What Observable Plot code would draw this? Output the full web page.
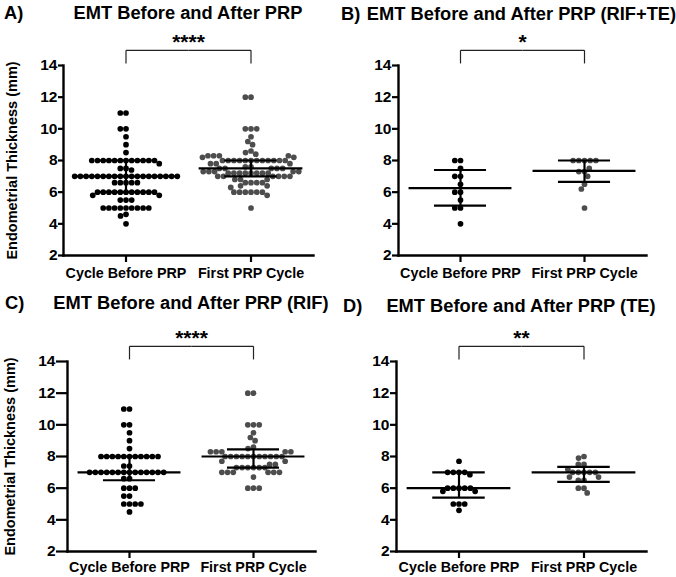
<!DOCTYPE html>
<html><head><meta charset="utf-8">
<script src="https://cdn.jsdelivr.net/npm/d3@7"></script>
<script src="https://cdn.jsdelivr.net/npm/@observablehq/plot@0.6"></script>
<style>
body{margin:0;background:#fff;font-family:"Liberation Sans",Arial,sans-serif;}
#root{position:relative;width:676px;height:577px;overflow:hidden;background:#fff}
.t{position:absolute;font-weight:bold;font-size:18.3px;line-height:20px;white-space:nowrap;color:#000}
.main{transform:translateX(-50%)}
svg{position:absolute;overflow:visible}
</style></head><body><div id="root"></div>
<script>
// ---- categories, titles, ticks ----
const groups = ["Cycle Before PRP", "First PRP Cycle"];
const panelLetters = ["A)", "B)", "C)", "D)"];
const panelTitles = ["EMT Before and After PRP", "EMT Before and After PRP (RIF+TE)", "EMT Before and After PRP (RIF)", "EMT Before and After PRP (TE)"];
const panelStars = ["****", "*", "****", "**"];
const yTicks = [2, 4, 6, 8, 10, 12, 14];
const yLabel = "Endometrial Thickness (mm)";

// ---- values (mm) ----
const allBefore = [11,11,10,10,9.5,9,8.5,
  8,8,8,8,8,8,8,8,8,8,8,8,
  7.8,7.5,7.5,7.4,
  7,7,7,7,7,7,7,7,7,7,7,7,7,7,7,7,7,7,7,
  6.6,6.6,6.6,6.6,6.6,
  6,6,6,6,6,6,6,6,6,6,6,5.8,5.8,
  5.5,5.5,5.5,5,5,5,5,5,5,5,5,5,4.6,4.5,4];
const allAfter = [12,12,10,10,10,9.5,9.2,9,8.6,8.5,8.4,
  8.3,8.3,8.3,8.3,8.2,8.2,
  8,8,8,8,8,8,8,8,8,8,8,8,
  7.8,7.8,7.8,7.6,7.6,7.5,7.5,7.5,7.5,7.5,
  7.3,7.3,7.3,7.3,7.3,7.2,7.2,7.2,7.2,7.2,7.2,7.2,7.2,
  7,7,7,7,7,7,
  6.8,6.8,6.8,6.6,6.6,6.6,6.6,6.4,6.4,6.3,
  6,6,6,6,6,6,5.8,5];
const rifteBefore = [8,8,7.5,7,7,6.5,6,6,5.5,5,5,4];
const rifteAfter = [8,8,8,8,8,7.5,7.3,7.3,7,6.5,6.2,5];
const rifBefore = [11,11,10,10,9.5,9,8.5,
  8,8,8,8,8,8,8,8,8,8,8,
  7.4,7.4,
  7,7,7,7,7,7,7,7,7,7,7,7,7,7,
  6.6,6.6,6,6,6,5.5,5.5,5,5,5,5,4.5];
const rifAfter = [12,12,10,10,10,9.5,9.2,9,8.6,8.5,
  8.3,8.3,8.3,8.3,8.3,
  8,8,8,8,8,8,8,8,8,8,8,
  7.7,7.7,7.5,7.5,
  7.3,7.3,7.3,7.3,7.3,7.3,
  7,7,7,7,7,7,
  6.7,6,6,6];
const teBefore = [7.7,7,7,7,7,6.85,6,6,6,6,6,5.8,5.8,5,5,5,4.6];
const teAfter = [8,7.9,7.5,7.5,7.2,7,7,7,7,7,6.7,6.7,6.5,6.5,6,6,5.7];

// ---- median and interquartile bars [before, after] ----
const allMid = [7, 7.5],       allLo = [6, 7],        allHi = [8, 8];
const rifteMid = [6.25, 7.35], rifteLo = [5.15, 6.65], rifteHi = [7.4, 8];
const rifMid = [7, 8],         rifLo = [6.5, 7.3],     rifHi = [8, 8.45];
const teMid = [6, 7],          teLo = [5.4, 6.4],      teHi = [7, 7.35];

// ---- styling / layout constants ----
const FONT = "'Liberation Sans', Arial, sans-serif";
const MID_HALF = 0.415, CAP_HALF = 0.21;
const BR_TOP = 14.96, BR_FOOT = 14.13;

const panels = [
  {before: allBefore, after: allAfter, mid: allMid, lo: allLo, hi: allHi, left: 0, top: 25, ml: 43, mr: 5, po: 0.16, ts: 5, tp: 5, ylab: true, lOff: 57},
  {before: rifteBefore, after: rifteAfter, mid: rifteMid, lo: rifteLo, hi: rifteHi, left: 336, top: 25, ml: 43, mr: 10, po: 0.149, ts: 6, tp: 5, ylab: false},
  {before: rifBefore, after: rifAfter, mid: rifMid, lo: rifLo, hi: rifHi, left: 0, top: 321, ml: 49, mr: 5, po: 0.136, ts: 11, tp: 3, ylab: true, lOff: 63},
  {before: teBefore, after: teAfter, mid: teMid, lo: teLo, hi: teHi, left: 336, top: 321, ml: 42, mr: 10, po: 0.144, ts: 6, tp: 3, ylab: false}
];
const titleTops = [2.7, 3.5, 293.2, 295.7];
const letterLefts = [4, 341, 5, 343];

const root = document.getElementById("root");
const W = 338, H = 262;

panels.forEach((cfg, k) => {
  const rows = [];
  cfg.before.forEach(v => rows.push({g: groups[0], v}));
  cfg.after.forEach(v => rows.push({g: groups[1], v}));
  // place the fullest rows first so they stay compact around the centre
  const counts = d3.rollup(rows, r => r.length, d => d.g, d => d.v);
  const order = (a, b) => counts.get(b.g).get(b.v) - counts.get(a.g).get(a.v) || b.v - a.v;
  const bars = groups.map((g, i) => ({g, mid: cfg.mid[i], lo: cfg.lo[i], hi: cfg.hi[i]}));
  const bracket = [
    {g: groups[0], x1: 0.5, x2: 1, y1: BR_TOP, y2: BR_TOP},
    {g: groups[0], x1: 0.5, x2: 0.5, y1: BR_FOOT, y2: BR_TOP},
    {g: groups[1], x1: 0, x2: 0.5, y1: BR_TOP, y2: BR_TOP},
    {g: groups[1], x1: 0.5, x2: 0.5, y1: BR_FOOT, y2: BR_TOP}
  ];
  const starRow = [{g: groups[0], s: panelStars[k]}];

  const svg = Plot.plot({
    width: W, height: H,
    marginLeft: cfg.ml, marginRight: cfg.mr, marginTop: 40, marginBottom: 32,
    style: {fontFamily: FONT, fontSize: "14px", fontWeight: "bold", color: "#000", background: "transparent", overflow: "visible"},
    fx: {domain: groups, paddingInner: 0, paddingOuter: cfg.po, axis: null, label: null},
    x: {domain: [0, 1], axis: null},
    y: {domain: [2, 14], axis: null},
    color: {domain: groups, range: ["#000000", "#4d4d4d"]},
    marks: [
      Plot.dot(rows, Plot.dodgeX({anchor: "middle", padding: 0, sort: order, fx: "g", y: "v", r: 2.85, fill: "g"})),
      Plot.ruleY(bars, {fx: "g", y: "mid", x1: 0.5 - MID_HALF, x2: 0.5 + MID_HALF, strokeWidth: 2.2}),
      Plot.ruleY(bars, {fx: "g", y: "lo", x1: 0.5 - CAP_HALF, x2: 0.5 + CAP_HALF, strokeWidth: 2.2}),
      Plot.ruleY(bars, {fx: "g", y: "hi", x1: 0.5 - CAP_HALF, x2: 0.5 + CAP_HALF, strokeWidth: 2.2}),
      Plot.ruleX(bars, {fx: "g", x: 0.5, y1: "lo", y2: "hi", strokeWidth: 2.2}),
      Plot.link(bracket, {fx: "g", x1: "x1", x2: "x2", y1: "y1", y2: "y2", stroke: "#222", strokeWidth: 1.2}),
      Plot.text(starRow, {fx: "g", x: 1, y: BR_TOP, text: "s", dy: -8, fontSize: 21, fontWeight: "bold", ariaLabel: "stars"}),
      Plot.frame({anchor: "left", facet: "super", strokeWidth: 2.4}),
      Plot.frame({anchor: "bottom", facet: "super", strokeWidth: 2.4}),
      Plot.axisY({ticks: yTicks, tickSize: cfg.ts, tickPadding: 1, strokeWidth: 2.2, fontSize: 15.5,
        label: cfg.ylab ? yLabel : null, labelAnchor: "center", labelOffset: cfg.lOff, labelArrow: "none"}),
      Plot.axisFx({anchor: "bottom", tickSize: 7, tickPadding: cfg.tp, strokeWidth: 2.2, fontSize: 14.3, label: null})
    ]
  });
  d3.select(svg).selectAll("g[aria-label=stars] text").style("letter-spacing", "2px");
  d3.select(svg).selectAll("g[aria-label='y-axis label'] text").style("font-size", "14.5px");
  svg.style.left = cfg.left + "px";
  svg.style.top = cfg.top + "px";
  root.appendChild(svg);

  const letter = document.createElement("div");
  letter.className = "t";
  letter.textContent = panelLetters[k];
  letter.style.left = letterLefts[k] + "px";
  letter.style.top = titleTops[k] + "px";
  root.appendChild(letter);

  const main = document.createElement("div");
  main.className = "t main";
  main.textContent = panelTitles[k];
  main.style.left = (cfg.left + (cfg.ml + W - cfg.mr) / 2) + "px";
  main.style.top = titleTops[k] + "px";
  root.appendChild(main);
});
</script></body></html>
